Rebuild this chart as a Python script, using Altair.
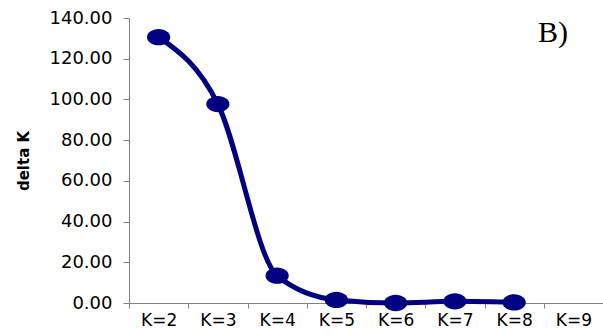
import altair as alt
import pandas as pd

# Delta K for each number of clusters K (K=9 has no value)
categories = ["K=2", "K=3", "K=4", "K=5", "K=6", "K=7", "K=8", "K=9"]
k_labels = ["K=2", "K=3", "K=4", "K=5", "K=6", "K=7", "K=8"]
delta_k = [130.6, 97.7, 13.4, 1.5, 0.0, 0.8, 0.3]

df = pd.DataFrame({"K": k_labels, "delta": delta_k})

NAVY = "#000080"
ELLIPSE = "M-1,0 A1,0.7 0 1,0 1,0 A1,0.7 0 1,0 -1,0 Z"
FONT = "DejaVu Sans"

x_enc = alt.X(
    "K:N",
    scale=alt.Scale(domain=categories, paddingInner=0, paddingOuter=0),
    axis=alt.Axis(
        title=None,
        labelAngle=0,
        tickBand="extent",
        tickSize=5,
        labelPadding=4,
        labelFont=FONT,
        labelFontSize=17,
        labelColor="#000000",
        domainColor="#808080",
        tickColor="#808080",
        grid=False,
    ),
)
y_enc = alt.Y(
    "delta:Q",
    scale=alt.Scale(domain=[0, 140], nice=False),
    axis=alt.Axis(
        title="delta K",
        values=[0, 20, 40, 60, 80, 100, 120, 140],
        format=".2f",
        tickSize=6,
        labelPadding=11,
        labelFont=FONT,
        labelFontSize=18,
        labelColor="#000000",
        titleFont=FONT,
        titleFontSize=15,
        titleFontWeight="bold",
        titleColor="#000000",
        titlePadding=18,
        domainColor="#808080",
        tickColor="#808080",
        grid=False,
    ),
)

base = alt.Chart(df).encode(x=x_enc, y=y_enc)

line = base.mark_line(color=NAVY, strokeWidth=5, interpolate="monotone")
points = base.mark_point(
    shape=ELLIPSE, size=540, filled=True, color=NAVY, opacity=1
)

label = alt.Chart(pd.DataFrame({"t": ["B)"]})).mark_text(
    font="Liberation Serif",
    fontSize=30,
    align="left",
    baseline="alphabetic",
    color="#000000",
).encode(text="t:N", x=alt.value(409), y=alt.value(24))

chart = (
    alt.layer(line, points, label)
    .properties(
        width=474,
        height=285,
        padding={"left": 129, "top": 18, "right": 0, "bottom": 31},
        autosize=alt.AutoSizeParams(type="none"),
        background="white",
    )
    .configure_view(stroke=None)
)

chart.save("out.html", embed_options={"renderer": "svg", "actions": False})
